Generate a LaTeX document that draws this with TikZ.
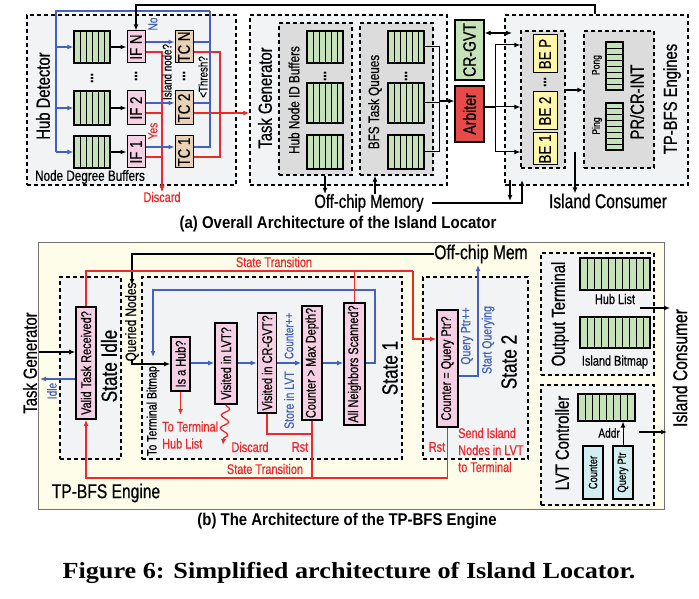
\documentclass[tikz,border=0pt]{standalone}
\usepackage{fontspec}
\setmainfont{Liberation Serif}
\newfontfamily\cf[FakeStretch=0.78, FakeBold=0.6]{Liberation Sans}
\newfontfamily\cft[FakeStretch=0.88]{Liberation Sans}
\newfontfamily\capfont[FakeStretch=1.14]{Liberation Serif}
\usetikzlibrary{positioning,arrows.meta,calc,fit,decorations.pathmorphing}
\definecolor{boxgray}{HTML}{F2F3F5}
\definecolor{innergray}{HTML}{DCDCDC}
\definecolor{bufgreen}{HTML}{C6E2B9}
\definecolor{pinkc}{HTML}{F5D0E4}
\definecolor{tanc}{HTML}{E8D1B5}
\definecolor{arbred}{HTML}{E84A4A}
\definecolor{beyellow}{HTML}{FFF6A8}
\definecolor{cream}{HTML}{FDFDE9}
\definecolor{cyanc}{HTML}{D3EEF1}
\definecolor{lblue}{HTML}{4062C0}
\definecolor{lred}{HTML}{F02828}
\tikzset{
  txt/.style={font=\cf\fontsize{#1}{#1}\selectfont, inner sep=0pt},
  rtxt/.style={txt=#1, rotate=90},
  dbox/.style={draw=black, dash pattern=on 4pt off 3pt, line width=1.3pt, fill=boxgray, inner sep=0pt},
  ibox/.style={dbox, fill=innergray},
  ifbox/.style={draw=black, line width=1pt, fill=pinkc, inner sep=0pt, font=\cf\fontsize{17}{17}\selectfont},
  tcbox/.style={ifbox, fill=tanc},
  bebox/.style={ifbox, fill=beyellow},
  qbox/.style={draw=black, line width=1.6pt, fill=pinkc, inner sep=0pt, font=\cf\fontsize{14}{14}\selectfont},
  cbox/.style={draw=black, line width=1.2pt, fill=cyanc, inner sep=0pt, font=\cf\fontsize{12}{12}\selectfont},
  bl/.style={draw=lblue, line width=1.3pt},
  rd/.style={draw=lred, line width=1.3pt},
  blk/.style={draw=black, line width=1.3pt},
  thk/.style={draw=black, line width=2.2pt},
  tip/.style={-{Latex[length=6pt,width=5pt]}},
  vbuf/.style={draw=black, line width=1.2pt, fill=bufgreen, inner sep=0pt, path picture={
      \foreach \k in {1,...,#1}{
        \pgfmathsetmacro\fr{\k/(#1+1)}
        \draw[line width=0.9pt] ($(path picture bounding box.south west)!\fr!(path picture bounding box.south east)$)
          -- ($(path picture bounding box.north west)!\fr!(path picture bounding box.north east)$);}}},
  hbuf/.style={draw=black, line width=1.2pt, fill=bufgreen, inner sep=0pt, path picture={
      \foreach \k in {1,...,#1}{
        \pgfmathsetmacro\fr{\k/(#1+1)}
        \draw[line width=0.9pt] ($(path picture bounding box.south west)!\fr!(path picture bounding box.north west)$)
          -- ($(path picture bounding box.south east)!\fr!(path picture bounding box.north east)$);}}},
}
\begin{document}
\begin{tikzpicture}[x=1pt, y=-1pt]
  \useasboundingbox (0,0) rectangle (699,599);

  %% (a) overall architecture
  % hub detector
  \node[dbox, fit={(27,15)(236,185)}] (hubdet) {};
  \node[rtxt=19] (hubdetlbl) at (43,96) {Hub Detector};
  \node[txt=15] (ndblbl) at (90,177) {Node Degree Buffers};
  \node[txt=14, text=lred] (disclbl) at (162,197) {Discard};
  \coordinate (fbR) at (210,11);
  \coordinate (fbL) at (56,11);
  \coordinate (tcj) at (220,113);
  \foreach \n/\y/\h in {N/47/32, 2/108/34, 1/152/32} {
    \node[vbuf=5, minimum width=36pt, minimum height=\h pt] (hb\n) at (92,\y) {};
    \node[ifbox, minimum width=18pt, minimum height=\h pt] (if\n) at (136,\y) {\rotatebox{90}{IF \n}};
    \node[tcbox, minimum width=18pt, minimum height=\h pt] (tc\n) at (184,\y) {\rotatebox{90}{TC \n}};
    \draw[bl, tip] (fbL |- hb\n) -- (hb\n.west);
    \draw[blk, tip] (hb\n.east) -- (if\n.west);
    \draw[bl, tip] ($(if\n.east)+(0,-5)$) -- ($(tc\n.west)+(0,-5)$);
    \draw[rd, tip] ($(if\n.east)+(0,5)$) -| (disclbl.north);
    \draw[bl] ($(tc\n.east)+(0,-5)$) -| (fbR);
    \draw[rd] ($(tc\n.east)+(0,5)$) -| (tcj);
  }
  \draw[bl] (fbR) -- (fbL) -- (fbL |- hb1);
  \node[txt=15] (hbdots) at (92,78) {\rotatebox{90}{\bfseries...}};
  \node[txt=15] (ifdots) at (136,76) {\rotatebox{90}{\bfseries...}};
  \node[txt=15] (tcdots) at (184,76) {\rotatebox{90}{\bfseries...}};
  \node[rtxt=13, text=lblue] (nolbl) at (153,24) {No};
  \node[rtxt=13, text=lred] (yeslbl) at (153,131) {Yes};
  \node[rtxt=12.5] (islq) at (167,72) {Island node?};
  \node[rtxt=12.5] (thq) at (203,77) {<Thresh?};

  % task generator
  \node[dbox, fit={(250,15)(447,185)}] (taskgen) {};
  \node[rtxt=19] (tglbl) at (265,98) {Task Generator};
  \node[ibox, fit={(279,23)(352,175)}] (hubids) {};
  \node[rtxt=15] (hubidslbl) at (294,100) {Hub Node ID Buffers};
  \node[ibox, fit={(360,23)(433,175)}] (bfsq) {};
  \node[rtxt=15] (bfsqlbl) at (375,102) {BFS Task Queues};
  \coordinate (arbj) at (439,101);
  \foreach \n/\y/\h in {N/47/32, 2/103/40, 1/152/34} {
    \node[vbuf=5, minimum width=36pt, minimum height=\h pt] (th\n) at (325,\y) {};
    \node[vbuf=5, minimum width=36pt, minimum height=\h pt] (bq\n) at (406,\y) {};
    \draw[blk, line width=1pt] (bq\n.east) -| (arbj);
  }
  \node[txt=15] (thdots) at (325,76) {\rotatebox{90}{\bfseries...}};
  \node[txt=15] (bqdots) at (406,76) {\rotatebox{90}{\bfseries...}};
  \draw[rd, line width=2.4pt, tip] (tcj) -- (taskgen.west |- tcj);

  % off-chip memory
  \node[txt=19] (offchip) at (369,203) {Off-chip Memory};
  \draw[thk, tip] (hubids.south -| th1) -- (offchip.north -| th1);
  \draw[thk, tip] (offchip.north -| bfsqlbl) -- (bfsq.south -| bfsqlbl);

  % arbiter and CR-GVT
  \node[draw, line width=1.2pt, fill=bufgreen, minimum width=29pt, minimum height=60pt, inner sep=0pt,
        font=\cf\fontsize{18}{18}\selectfont] (crgvt) at (469.5,50) {\rotatebox{90}{CR-GVT}};
  \node[draw, line width=1.2pt, fill=arbred, minimum width=29pt, minimum height=56pt, inner sep=0pt,
        font=\cf\fontsize{18}{18}\selectfont] (arbiter) at (469.5,114) {\rotatebox{90}{Arbiter}};
  \draw[blk, tip] (arbj) -- (arbiter.west |- arbj);

  % TP-BFS engines
  \node[dbox, fit={(505,15)(688,185)}] (tpbfs) {};
  \node[ibox, fit={(521,31)(565,168)}] (bebox) {};
  \node[bebox, minimum width=24pt, minimum height=38pt] (beP) at (545,54) {\rotatebox{90}{BE P}};
  \node[bebox, minimum width=24pt, minimum height=38pt] (be2) at (545,111) {\rotatebox{90}{BE 2}};
  \node[bebox, minimum width=24pt, minimum height=32pt] (be1) at (545,149) {\rotatebox{90}{BE 1}};
  \node[txt=15] (bedots) at (545,82) {\rotatebox{90}{\bfseries...}};
  \node[ibox, fit={(584,31)(654,168)}] (prcr) {};
  \node[hbuf=7, minimum width=17pt, minimum height=48pt] (pong) at (614.5,66) {};
  \node[hbuf=7, minimum width=17pt, minimum height=47pt] (ping) at (614.5,126.5) {};
  \node[rtxt=11] (ponglbl) at (597,65) {Pong};
  \node[rtxt=11] (pinglbl) at (597,126) {Ping};
  \node[rtxt=19] (prcrlbl) at (637,102) {PR/CR-INT};
  \node[rtxt=19] (tpbfslbl) at (672,99) {TP-BFS Engines};
  \draw[blk, tip] (bebox.east |- 0,90) -- (prcr.west |- 0,90);

  \coordinate (arbsp) at (495,107);
  \draw[thk] (arbiter.east |- arbsp) -- (arbsp);
  \draw[blk, line width=1pt] (arbsp |- 0,45) -- (arbsp |- 0,152);
  \foreach \y in {45,107,152}
    \draw[blk, line width=1pt, tip] (arbsp |- 0,\y) -- (bebox.west |- 0,\y);
  \draw[thk, {Latex[length=6pt,width=5pt]}-{Latex[length=6pt,width=5pt]}] (crgvt.east |- 0,33) -- (512,33);

  % feedback from engines to hub detector
  \coordinate (fbtop) at (595,5);
  \draw[thk, tip] (tpbfs.north -| fbtop) -- (fbtop) -| (ifN.north);

  % memory links of the engines
  \coordinate (upA) at (522,180);
  \coordinate (dnA) at (510,180);
  \draw[thk, tip] ([xshift=8pt]offchip.east) -| (upA);
  \draw[thk, tip] (dnA) -- (dnA |- 0,201);

  \node[txt=20] (iclbl) at (608,201) {Island Consumer};
  \coordinate (icsrc) at (575,152);
  \draw[thk, tip] (icsrc) -- (icsrc |- iclbl.north);

  \node[font=\cft\bfseries\fontsize{17}{17}\selectfont] (tita) at (338,224) {(a) Overall Architecture of the Island Locator};

  %% (b) TP-BFS engine
  \node[draw=black!55, line width=1pt, fill=cream, inner sep=0pt, fit={(38,242)(664,509)}] (engine) {};
  \node[txt=20] (englbl) at (106,493) {TP-BFS Engine};
  \node[rtxt=19] (tglbl2) at (30,363) {Task Generator};
  \node[dbox, fit={(60,277)(121,459)}] (stidle) {};
  \node[dbox, fit={(142,277)(402,459)}] (st1) {};
  \node[dbox, fit={(423,277)(528,459)}] (st2) {};
  \node[dbox, fit={(541,253)(654,375)}] (outterm) {};
  \node[dbox, fit={(541,385)(654,505)}] (lvtc) {};

  \node[qbox, minimum width=20pt, minimum height=112pt] (valid) at (86,363) {\rotatebox{90}{Valid Task Received?}};
  \node[qbox, minimum width=19pt, minimum height=54pt] (ishub) at (180.5,364) {\rotatebox{90}{Is a Hub?}};
  \node[qbox, minimum width=22pt, minimum height=81pt] (vlvt) at (226,363.5) {\rotatebox{90}{Visited in LVT?}};
  \node[qbox, minimum width=19pt, minimum height=100pt] (vgvt) at (267,363) {\rotatebox{90}{Visited in CR-GVT?}};
  \node[qbox, minimum width=20pt, minimum height=114pt] (cmax) at (312,363) {\rotatebox{90}{Counter > Max Depth?}};
  \node[qbox, minimum width=21pt, minimum height=122pt] (allnb) at (354.5,364) {\rotatebox{90}{All Neighbors Scanned?}};
  \node[qbox, minimum width=21pt, minimum height=117pt] (cqp) at (447.5,368.5) {\rotatebox{90}{Counter = Query Ptr?}};

  \node[rtxt=22] (stidlelbl) at (109,366) {State Idle};
  \node[rtxt=22] (st1lbl) at (390,368) {State 1};
  \node[rtxt=22] (st2lbl) at (509,362) {State 2};

  % state idle
  \coordinate (tgin) at (39,352);
  \coordinate (idleout) at (40,379);
  \draw[blk, tip] (tgin) -- (valid.west |- tgin);
  \draw[bl, tip] (valid.west |- idleout) -- (idleout);
  \node[rtxt=13, text=lblue] (idlelbl) at (52,391) {Idle};

  % state 1
  \foreach \a/\b in {ishub/vlvt, vlvt/vgvt, vgvt/cmax, cmax/allnb}
    \draw[bl, tip] (\a.east |- 0,363) -- (\b.west |- 0,363);
  \coordinate (lpA) at (375,290);
  \coordinate (lpB) at (153,290);
  \draw[bl, tip] (allnb.east |- 0,363) -| (lpA) -- (lpB) -- (lpB |- 0,357);
  \node[rtxt=12.5, text=lblue] (cntpp) at (289,336) {Counter++};
  \node[rtxt=13.5, text=lblue] (stlvt) at (289,400) {Store in LVT};

  \node[rtxt=15] (qnlbl) at (132,322) {Queried Nodes};
  \node[txt=20] (offmem) at (481,254) {Off-chip Mem};
  \coordinate (qnin) at (132,285);
  \coordinate (qnout) at (132,359);
  \draw[blk, line width=1.6pt, tip] (offmem.west) -| (qnin);
  \draw[blk, line width=1.6pt, tip] (qnout) |- (ishub.west);
  \node[rtxt=13.5] (ttbm) at (153,411) {To Terminal Bitmap};

  \draw[rd, tip] (ishub.south) -- (ishub.south |- 0,415);
  \node[txt=14, text=lred, align=left, anchor=west] (tthub) at (162,435) {To Terminal\\[3pt]Hub List};
  \draw[rd, tip, decorate, decoration={snake, amplitude=4pt, segment length=13pt, post length=6pt}]
    (vlvt.south) -- (223,445);
  \node[txt=14, text=lred] (disc2) at (250,447) {Discard};
  \draw[rd] (vgvt.south) |- (cmax.south |- 0,434);
  \node[txt=14, text=lred] (rst1) at (300,447) {Rst};

  % state transitions
  \coordinate (stA) at (413,271);
  \draw[rd] (valid.north) |- (stA);
  \draw[rd] (allnb.north) -- (allnb.north |- stA);
  \draw[rd, tip] (stA) |- (cqp.west |- 0,339);
  \node[txt=14, text=lred] (sttop) at (274,262) {State Transition};
  \draw[rd, tip] (cqp.south) |- (valid.south |- 0,478) -- (valid.south);
  \draw[rd] (cmax.south) -- (cmax.south |- 0,478);
  \node[txt=14, text=lred] (stbot) at (265,469) {State Transition};

  % state 2
  \coordinate (sq) at (478,265);
  \draw[bl, tip] (cqp.east |- 0,376) -| (sq);
  \node[rtxt=13.5, text=lblue] (qpp) at (467,336) {Query Ptr++};
  \node[rtxt=13.5, text=lblue] (squery) at (488,340) {Start Querying};
  \node[txt=14, text=lred] (rst2) at (437,447) {Rst};
  \node[text=lred, align=left, anchor=west, inner sep=0pt, font=\cf\fontsize{14}{17}\selectfont] (sendlbl) at (458,450) {Send Island\\Nodes in LVT\\to Terminal};

  % output terminal
  \node[rtxt=19] (otlbl) at (560,314) {Output Terminal};
  \node[vbuf=9, minimum width=70pt, minimum height=32pt] (hublist) at (615,274) {};
  \node[txt=14] (hllbl) at (615,299) {Hub List};
  \node[vbuf=9, minimum width=70pt, minimum height=31pt] (isbm) at (615,332.5) {};
  \node[txt=14] (iblbl) at (615,362) {Island Bitmap};
  \coordinate (otsrc) at (640,308);
  \coordinate (otdst) at (670,308);
  \draw[thk, tip] (otsrc) -- (otdst);

  % LVT controller
  \node[rtxt=19] (lvtlbl) at (562,443) {LVT Controller};
  \node[vbuf=7, minimum width=57pt, minimum height=27pt] (lvtbuf) at (606.5,407.5) {};
  \node[cbox, minimum width=20pt, minimum height=53pt] (cnt) at (593,472.5) {\rotatebox{90}{Counter}};
  \node[cbox, minimum width=20pt, minimum height=53pt] (qptr) at (623,472.5) {\rotatebox{90}{Query Ptr}};
  \draw[blk, line width=1pt, tip] (qptr.north) -- (qptr.north |- lvtbuf.south);
  \node[txt=13, anchor=east] (addr) at (620,433) {Addr};
  \coordinate (lvsrc) at (639,432);
  \coordinate (lvdst) at (667,432);
  \draw[thk, tip] (lvsrc) -- (lvdst);

  \node[rtxt=20] (iclbl2) at (680,368) {Island Consumer};

  \node[font=\cft\bfseries\fontsize{17}{17}\selectfont] (titb) at (347,521) {(b) The Architecture of the TP-BFS Engine};
  \node[font=\capfont\bfseries\fontsize{23}{23}\selectfont] (caption) at (349,573) {Figure 6: Simplified architecture of Island Locator.};
\end{tikzpicture}
\end{document}
